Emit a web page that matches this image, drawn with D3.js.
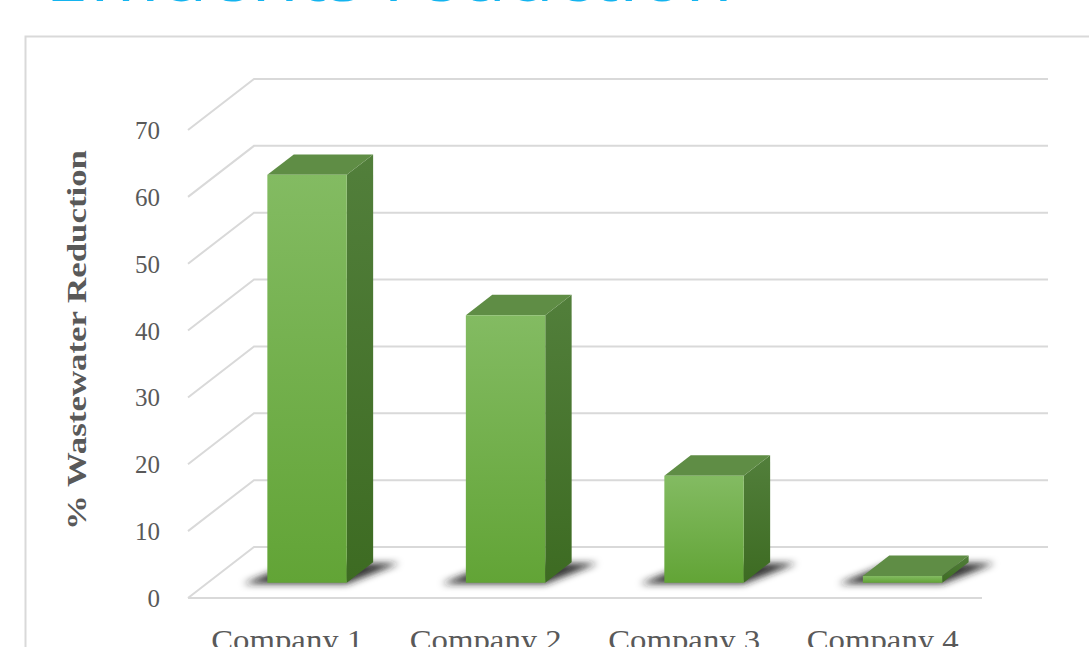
<!DOCTYPE html>
<html>
<head>
<meta charset="utf-8">
<script src="https://cdn.jsdelivr.net/npm/d3@7"></script>
<style>
  html, body { margin: 0; padding: 0; background: #ffffff; }
  svg { display: block; }
</style>
</head>
<body>
<svg id="chart" width="1089" height="647"></svg>
<script>
// Chart data
const categories = ["Company 1", "Company 2", "Company 3", "Company 4"];
const reduction = [61, 40, 16, 1];
const yTicks = [0, 10, 20, 30, 40, 50, 60, 70];
const titleText = "Effluents reduction";
const yAxisTitle = "% Wastewater Reduction";

const svg = d3.select("#chart");
const W = 1089, H = 647;

// Front plane scales; the back wall is offset by (DX, DY)
const x = d3.scaleBand().domain(categories).range([188, 982]).paddingInner(0).paddingOuter(0);
const y = d3.scaleLinear().domain([0, 70]).range([598, 130]);
const DX = 66, DY = -51;
const depthFront = 0.3, depthBack = 0.7;   // bar depth within the floor
const barStart = 0.3, barEnd = 0.7;        // bar width within each band

const defs = svg.append("defs");

const gFront = defs.append("linearGradient").attr("id", "gFront")
  .attr("x1", 0).attr("y1", 0).attr("x2", 0).attr("y2", 1);
gFront.append("stop").attr("offset", "0%").attr("stop-color", "#83bb62");
gFront.append("stop").attr("offset", "100%").attr("stop-color", "#62a436");

const gSide = defs.append("linearGradient").attr("id", "gSide")
  .attr("x1", 0).attr("y1", 0).attr("x2", 0).attr("y2", 1);
gSide.append("stop").attr("offset", "0%").attr("stop-color", "#527f3b");
gSide.append("stop").attr("offset", "100%").attr("stop-color", "#3d6b22");

const blur = defs.append("filter").attr("id", "shadowBlur")
  .attr("x", "-30%").attr("y", "-60%").attr("width", "160%").attr("height", "220%");
blur.append("feGaussianBlur").attr("stdDeviation", 3.5);

// Title (partly above the visible area)
svg.append("text")
  .attr("x", 45).attr("y", 1)
  .attr("font-family", "'Open Sans', 'Noto Sans', sans-serif")
  .attr("font-size", 72)
  .attr("fill", "#14b4ef")
  .attr("textLength", 688)
  .attr("lengthAdjust", "spacingAndGlyphs")
  .text(titleText);

// Chart area frame
svg.append("path")
  .attr("d", `M25.5,${H} L25.5,36.5 L${W},36.5`)
  .attr("fill", "none").attr("stroke", "#d9d9d9").attr("stroke-width", 2);

// Gridlines: side wall diagonal + back wall horizontal
const [x0, x1] = x.range();
const grid = svg.append("g").attr("fill", "none").attr("stroke", "#d9d9d9").attr("stroke-width", 2);
yTicks.forEach(v => {
  grid.append("path")
    .attr("d", `M${x0},${y(v)} L${x0 + DX},${y(v) + DY} L${x1 + DX},${y(v) + DY}`);
});
// Front floor edge
grid.append("path").attr("d", `M${x0},${y(0)} L${x1},${y(0)}`);

// Y tick labels
svg.append("g")
  .selectAll("text").data(yTicks).join("text")
  .attr("x", 160).attr("y", d => y(d) + 9)
  .attr("text-anchor", "end")
  .attr("font-family", "'Liberation Serif', 'DejaVu Serif', serif")
  .attr("font-size", 25)
  .attr("fill", "#595959")
  .text(d => d);

// Y axis title
svg.append("text")
  .attr("transform", "translate(86,340) rotate(-90)")
  .attr("text-anchor", "middle")
  .attr("font-family", "'Liberation Serif', 'DejaVu Serif', serif")
  .attr("font-weight", "bold")
  .attr("font-size", 28)
  .attr("fill", "#595959")
  .attr("textLength", 380)
  .attr("lengthAdjust", "spacingAndGlyphs")
  .text(yAxisTitle);

// Category labels
svg.append("g")
  .selectAll("text").data(categories).join("text")
  .attr("x", d => x(d) + x.bandwidth() / 2)
  .attr("y", 650)
  .attr("text-anchor", "middle")
  .attr("font-family", "'Liberation Serif', 'DejaVu Serif', serif")
  .attr("font-size", 29)
  .attr("fill", "#595959")
  .attr("textLength", 152)
  .attr("lengthAdjust", "spacingAndGlyphs")
  .text(d => d);

// Project a point on the front plane to a given depth
const P = (px, v, t) => [px + t * DX, y(v) + t * DY];
const pts = arr => arr.map(p => p.join(",")).join(" ");

const bars = categories.map((c, i) => {
  const bw = x.bandwidth();
  const l = x(c) + bw * barStart, r = x(c) + bw * barEnd;
  return { c, v: reduction[i], l, r };
});

// Floor shadows
svg.append("g").attr("filter", "url(#shadowBlur)")
  .selectAll("polygon").data(bars).join("polygon")
  .attr("fill", "#1e1e1e").attr("opacity", 0.9)
  .attr("points", d => {
    const fl = P(d.l, 0, depthFront), fr = P(d.r, 0, depthFront);
    const br = P(d.r, 0, depthBack), bl = P(d.l, 0, depthBack);
    return pts([[fl[0] - 24, fl[1] + 1], [fr[0], fr[1] + 1], [br[0] + 26, br[1] + 1], [bl[0], bl[1] + 1]]);
  });

// 3D bars
const barG = svg.append("g").selectAll("g").data(bars).join("g");

// Right side face
barG.append("polygon")
  .attr("fill", "url(#gSide)")
  .attr("points", d => pts([
    P(d.r, 0, depthFront), P(d.r, d.v, depthFront),
    P(d.r, d.v, depthBack), P(d.r, 0, depthBack)
  ]));

// Top face
barG.append("polygon")
  .attr("fill", "#5f8d45")
  .attr("points", d => pts([
    P(d.l, d.v, depthFront), P(d.r, d.v, depthFront),
    P(d.r, d.v, depthBack), P(d.l, d.v, depthBack)
  ]));

// Front face
barG.append("polygon")
  .attr("fill", "url(#gFront)")
  .attr("points", d => pts([
    P(d.l, 0, depthFront), P(d.r, 0, depthFront),
    P(d.r, d.v, depthFront), P(d.l, d.v, depthFront)
  ]));
</script>
</body>
</html>
